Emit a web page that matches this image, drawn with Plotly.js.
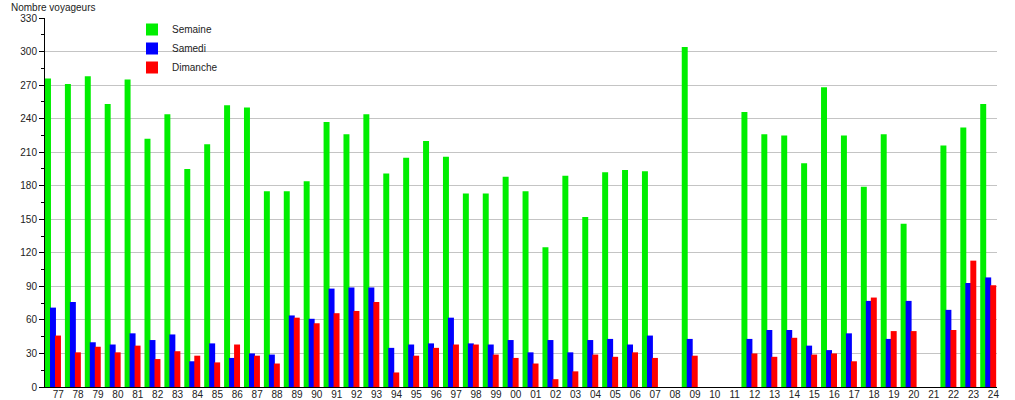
<!DOCTYPE html>
<html>
<head>
<meta charset="utf-8">
<script src="https://cdn.plot.ly/plotly-3.0.1.min.js"></script>
<style>html,body{margin:0;padding:0;background:#fff;}#chart{width:1015px;height:400px;}</style>
</head>
<body>
<div id="chart"></div>
<script>
const years = ["77","78","79","80","81","82","83","84","85","86","87","88","89","90","91","92","93","94","95","96","97","98","99","00","01","02","03","04","05","06","07","08","09","10","11","12","13","14","15","16","17","18","19","20","21","22","23","24"];
const semaine = [276,271,278,253,275,222,244,195,217,252,250,175,175,184,237,226,244,191,205,220,206,173,173,188,175,125,189,152,192,194,193,null,304,null,null,246,226,225,200,268,225,179,226,146,null,216,232,253];
const samedi = [71,76,40,38,48,42,47,23,39,26,30,29,64,61,88,89,89,35,38,39,62,39,38,42,31,42,31,42,43,38,46,null,43,null,null,43,51,51,37,33,48,77,43,77,null,69,93,98];
const dimanche = [46,31,36,31,37,25,32,28,22,38,28,21,62,57,66,68,76,13,28,35,38,38,29,26,21,7,14,29,27,31,26,null,28,null,null,30,27,44,29,30,23,80,50,50,null,51,113,91];

const idx = years.map((_, i) => i);
const font = {family: "Liberation Sans, Arial, sans-serif", size: 10, color: "#222"};
const W = 0.30;

function bar(name, y, color, offset) {
  return {type: "bar", name: name, x: idx, y: y, width: W, offset: offset,
          marker: {color: color, line: {width: 0}}, hoverinfo: "x+y"};
}

const data = [
  bar("Semaine", semaine, "#00ee00", -0.663),
  bar("Samedi", samedi, "#0000ff", -0.412),
  bar("Dimanche", dimanche, "#ff0000", -0.161)
];

const layout = {
  width: 1015, height: 400,
  margin: {l: 45, r: 18, t: 18, b: 13, pad: 0, autoexpand: false},
  paper_bgcolor: "#fff", plot_bgcolor: "#fff",
  font: font,
  barmode: "overlay",
  showlegend: true,
  title: {text: "Nombre voyageurs", x: 11/1015, xref: "container", xanchor: "left",
          y: 1 - 7/400, yref: "container", yanchor: "middle", font: font},
  legend: {x: (132 - 45)/952, xref: "paper", xanchor: "left", y: 1 + 3/369, yref: "paper", yanchor: "top",
           bgcolor: "rgba(0,0,0,0)", borderwidth: 0, font: font, traceorder: "normal"},
  xaxis: {range: [-0.663, 47.18], tickmode: "array", tickvals: idx, ticktext: years,
          showgrid: false, zeroline: false, showline: true, linecolor: "#000", linewidth: 1,
          ticks: "", ticklen: 0, ticklabelstandoff: -2, automargin: false, fixedrange: true, tickfont: font},
  yaxis: {range: [0, 330], dtick: 30, tick0: 0, showgrid: true, gridcolor: "#c4c4c4", gridwidth: 1,
          zeroline: false, showline: true, linecolor: "#000", linewidth: 1,
          ticks: "outside", ticklen: 5, tickcolor: "#000", tickwidth: 1,
          minor: {dtick: 15, ticks: "outside", ticklen: 3, tickcolor: "#000", showgrid: false},
          automargin: false, fixedrange: true, tickfont: font}
};

Plotly.newPlot("chart", data, layout, {displayModeBar: false, staticPlot: true});
</script>
</body>
</html>
